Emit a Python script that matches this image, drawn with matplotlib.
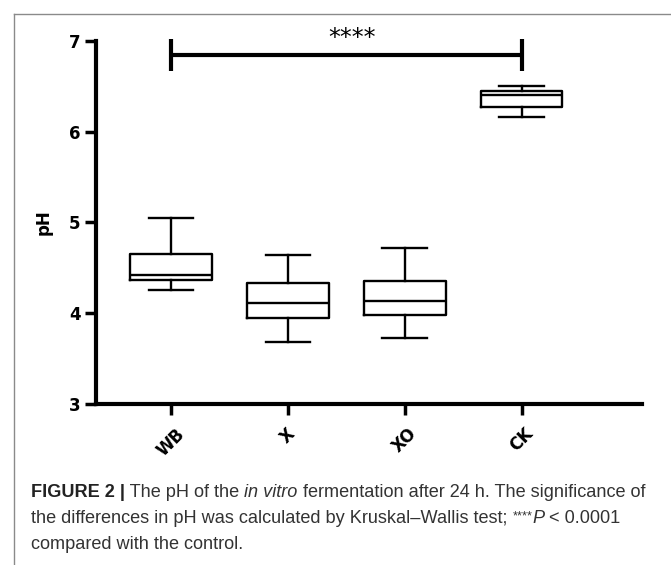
import matplotlib
matplotlib.use("Agg")
import matplotlib.pyplot as plt
from matplotlib import font_manager as fm
from matplotlib.lines import Line2D

categories = ["WB", "X", "XO", "CK"]
whislo = [4.25, 3.68, 3.73, 6.16]
q1 = [4.37, 3.95, 3.98, 6.27]
med = [4.42, 4.11, 4.13, 6.40]
q3 = [4.65, 4.33, 4.35, 6.45]
whishi = [5.05, 4.64, 4.72, 6.50]
yticks = [3, 4, 5, 6, 7]
sig_label = "****"
sig_y = 6.845

W, H = 671, 565
fig = plt.figure(figsize=(W / 100, H / 100), dpi=100)
ax = fig.add_axes([96 / W, 1 - 404 / H, (642 - 96) / W, (404 - 40.7) / H])

stats = []
for i, c in enumerate(categories):
    stats.append(dict(label=c, whislo=whislo[i], q1=q1[i], med=med[i], q3=q3[i], whishi=whishi[i], fliers=[]))
pos = list(range(len(categories)))
lw = 1.7
ax.bxp(stats, positions=pos, widths=0.70, showfliers=False,
       boxprops=dict(color="black", linewidth=lw),
       whiskerprops=dict(color="black", linewidth=lw),
       capprops=dict(color="black", linewidth=lw),
       medianprops=dict(color="black", linewidth=lw),
       capwidths=0.38)

ax.set_xlim(-0.64, 4.03)
ax.set_ylim(3, 7)
ax.set_yticks(yticks)
ax.set_yticklabels([str(t) for t in yticks], fontweight="bold", fontsize=12)
ax.set_xticks(pos)
ax.set_xticklabels(categories, rotation=45, fontweight="bold", fontsize=12,
                   ha="center", va="top")
ax.tick_params(axis="both", width=2.5, length=8, direction="out", pad=3)
ax.tick_params(axis="x", pad=7)
for s in ["top", "right"]:
    ax.spines[s].set_visible(False)
for s in ["left", "bottom"]:
    ax.spines[s].set_linewidth(3)
ax.set_ylabel("pH", fontweight="bold", fontsize=12, labelpad=12)

# significance bracket
x0, x1 = pos[0], pos[3]
ax.plot([x0, x1], [sig_y, sig_y], color="black", lw=3, clip_on=False, solid_capstyle="butt")
ax.plot([x0, x0], [6.67, 7.02], color="black", lw=3, clip_on=False, solid_capstyle="butt")
ax.plot([x1, x1], [6.67, 7.02], color="black", lw=3, clip_on=False, solid_capstyle="butt")
ax.text((x0 + x1) / 2 + 0.05, sig_y + 0.05, sig_label, ha="center", va="bottom",
        fontsize=17, clip_on=False)

# frame
fig.add_artist(Line2D([14 / W, 14 / W], [0, 1 - 14 / H], transform=fig.transFigure, color="#8a8a8a", lw=1))
fig.add_artist(Line2D([14 / W, 1], [1 - 14 / H, 1 - 14 / H], transform=fig.transFigure, color="#8a8a8a", lw=1))

# caption with mixed styles
names = {f.name for f in fm.fontManager.ttflist}
fam = "Liberation Sans Narrow" if "Liberation Sans Narrow" in names else "Liberation Sans"
fs = 13.05
lines = [
    [("FIGURE 2 |", "bold", "normal"), (" The pH of the ", "normal", "normal"), ("in vitro", "normal", "italic"),
     (" fermentation after 24 h. The significance of", "normal", "normal")],
    [("the differences in pH was calculated by Kruskal\u2013Wallis test; ", "normal", "normal"),
     ("****", "normal", "normal"), ("P", "normal", "italic"), (" < 0.0001", "normal", "normal")],
    [("compared with the control.", "normal", "normal")],
]
ys = [497, 523, 549]
fig.canvas.draw()
r = fig.canvas.get_renderer()
for line, y in zip(lines, ys):
    x = 31
    for txt, wt, st in line:
        size = fs * 0.7 if txt == "****" else fs
        dy = -4 if txt == "****" else 0
        t = fig.text(x / W, 1 - (y + dy) / H, txt, fontsize=size, fontweight=wt, fontstyle=st,
                     family=fam, color="#333333" if wt == "normal" else "#222222", va="baseline", ha="left")
        bb = t.get_window_extent(renderer=r)
        x += bb.width

fig.savefig("out.png", dpi=100)
